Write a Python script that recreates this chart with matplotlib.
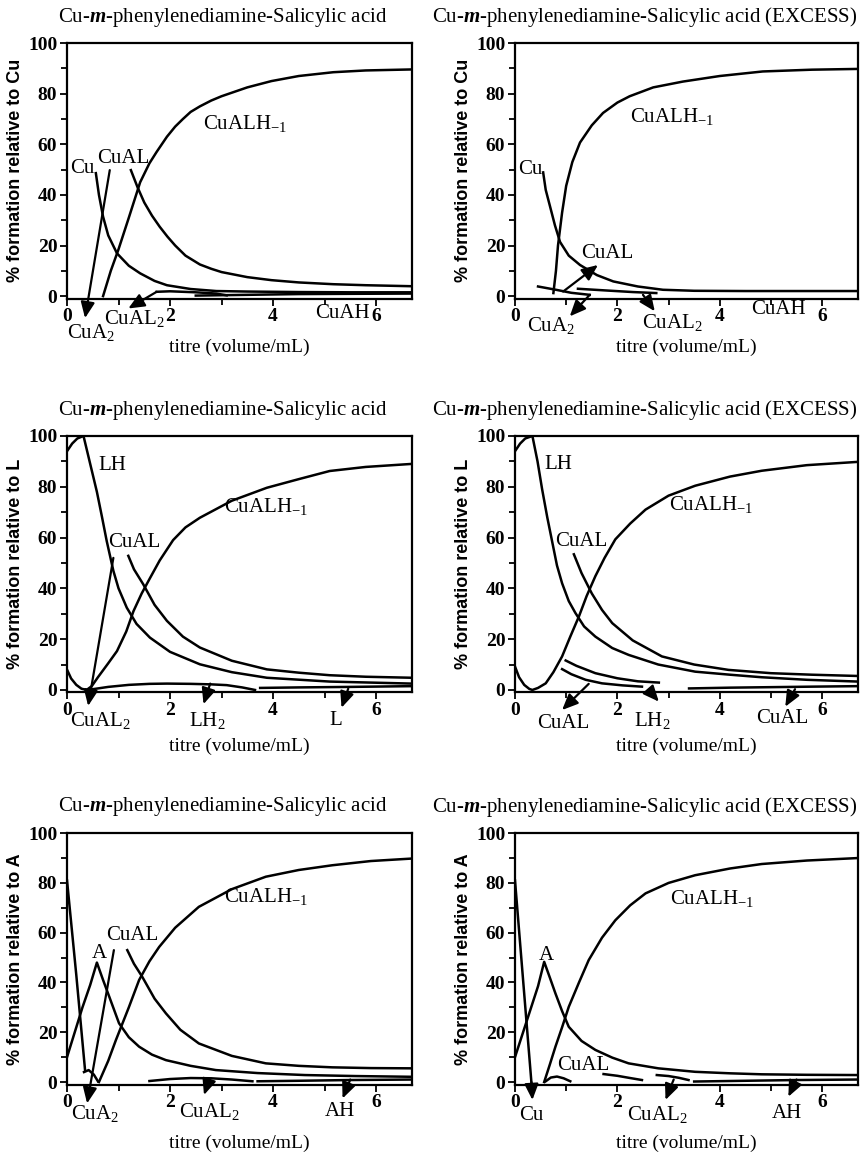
import matplotlib
matplotlib.use('Agg')
import matplotlib.pyplot as plt

plt.rcParams['font.family'] = 'Liberation Serif'
plt.rcParams['mathtext.fontset'] = 'custom'
plt.rcParams['mathtext.rm'] = 'Liberation Serif'
plt.rcParams['mathtext.it'] = 'Liberation Serif:italic'
plt.rcParams['mathtext.bf'] = 'Liberation Serif:bold'
plt.rcParams['mathtext.bfit'] = 'Liberation Serif:italic:bold'

X_TICKS = [0, 2, 4, 6]
X_MINOR = [1, 3, 5]
Y_TICKS = [0, 20, 40, 60, 80, 100]
Y_MINOR = [10, 30, 50, 70, 90]

TITLE = r'Cu-$\mathbfit{m}$-phenylenediamine-Salicylic acid'
TITLE_EXC = TITLE + ' (EXCESS)'
XLABEL = 'titre (volume/mL)'
YLABELS = ['% formation relative to Cu', '% formation relative to L',
           '% formation relative to A']

# ---- relative to Cu, normal ----
cu_norm_cualh_x = [0.70, 0.85, 1.0, 1.2, 1.42, 1.6, 1.74, 1.94, 2.1, 2.25, 2.4, 2.58, 2.8, 3.0, 3.5, 3.97, 4.5, 5.17, 5.8, 6.7]
cu_norm_cualh_y = [0, 10, 18.5, 31, 45, 52.5, 57, 63, 67, 70, 72.8, 75, 77.3, 79, 82.5, 85, 87, 88.5, 89.2, 89.6]
cu_norm_cual_x = [1.24, 1.37, 1.5, 1.65, 1.8, 1.95, 2.1, 2.3, 2.58, 2.8, 3.0, 3.5, 3.97, 4.5, 5.17, 5.8, 6.7]
cu_norm_cual_y = [49.8, 43, 37, 31.8, 27.4, 23.5, 20, 16, 12.5, 10.8, 9.5, 7.5, 6.3, 5.4, 4.7, 4.3, 3.9]
cu_norm_cu_x = [0.56, 0.62, 0.7, 0.8, 0.97, 1.2, 1.42, 1.7, 1.94, 2.4, 2.9, 3.5, 4.5, 5.5, 6.7]
cu_norm_cu_y = [48.6, 40, 31.4, 24, 16.9, 12, 9, 6, 4.3, 2.8, 2.0, 1.8, 1.6, 1.5, 1.5]
cu_norm_cual2_x = [1.74, 2.0, 2.5, 2.9, 3.1]
cu_norm_cual2_y = [1.7, 1.9, 1.5, 1.0, 0.3]
cu_norm_cuah_x = [2.5, 3.5, 4.5, 5.5, 6.7]
cu_norm_cuah_y = [0.2, 0.5, 0.8, 0.9, 1.0]

# ---- relative to Cu, excess ----
cu_exc_cualh_x = [0.75, 0.8, 0.84, 0.92, 1.0, 1.12, 1.27, 1.5, 1.72, 2.0, 2.24, 2.7, 3.28, 4.0, 4.84, 5.8, 6.7]
cu_exc_cualh_y = [1.2, 10, 20, 33, 43.6, 53, 60.7, 67.5, 72.4, 76.5, 79, 82.5, 84.8, 87, 88.8, 89.5, 89.8]
cu_exc_cu_x = [0.55, 0.6, 0.68, 0.78, 0.88, 1.05, 1.27, 1.6, 1.92, 2.4, 2.89, 3.5, 4.5, 5.5, 6.7]
cu_exc_cu_y = [48.9, 42, 35.8, 28, 21.4, 16, 12.3, 8.3, 5.8, 3.8, 2.5, 2.1, 2.0, 2.0, 2.0]
cu_exc_cua2_x = [0.45, 0.8, 1.1, 1.46]
cu_exc_cua2_y = [3.8, 2.5, 1.3, 0.5]
cu_exc_cual2_x = [1.23, 1.8, 2.3, 2.76]
cu_exc_cual2_y = [2.9, 2.2, 1.6, 1.2]

# ---- relative to L, normal ----
l_norm_lh_x = [0, 0.1, 0.2, 0.32, 0.45, 0.58, 0.68, 0.77, 0.9, 1.0, 1.16, 1.35, 1.61, 2.0, 2.58, 3.2, 3.88, 5.1, 6.7]
l_norm_lh_y = [94, 97, 99, 100, 89, 78, 68, 58.7, 46.9, 40, 32.4, 26, 20.6, 15, 10.1, 7, 4.8, 3.3, 2.5]
l_norm_cualh_x = [0, 0.08, 0.18, 0.28, 0.38, 0.48, 0.6, 0.8, 0.97, 1.15, 1.29, 1.45, 1.61, 1.8, 2.06, 2.3,
                  2.58, 3.2, 3.88, 4.5, 5.1, 5.8, 6.7]
l_norm_cualh_y = [8, 4.5, 2, 0.5, 0, 1.5, 5, 10.5, 15.3, 23, 31, 38, 44, 51, 59, 64,
                  67.8, 74.5, 79.6, 83, 86.2, 87.8, 89]
l_norm_cual_x = [1.19, 1.3, 1.48, 1.7, 1.94, 2.25, 2.58, 3.2, 3.88, 4.5, 5.1, 5.8, 6.7]
l_norm_cual_y = [52.8, 47.5, 41.6, 33.5, 27.2, 21, 16.7, 11.5, 8.1, 6.8, 5.8, 5.2, 4.8]
l_norm_lh2_x = [0.5, 0.8, 1.2, 1.6, 1.94, 2.4, 2.8, 3.1, 3.4, 3.65]
l_norm_lh2_y = [0.3, 1.2, 2.0, 2.4, 2.5, 2.4, 2.2, 1.9, 1.0, 0]
l_norm_l_x = [3.75, 4.5, 5.5, 6.7]
l_norm_l_y = [0.8, 1.0, 1.2, 1.5]

# ---- relative to L, excess ----
l_exc_lh_x = [0, 0.1, 0.2, 0.34, 0.44, 0.53, 0.63, 0.73, 0.82, 0.92, 1.05, 1.18, 1.35, 1.57, 1.9, 2.22,
              2.8, 3.52, 4.2, 4.82, 5.7, 6.7]
l_exc_lh_y = [94, 97, 99, 100, 90, 79, 68, 58, 49, 42, 35, 30.3, 25, 21, 16.5, 13.8,
              10, 7.2, 6, 5, 4, 3.3]
l_exc_cualh_x = [0, 0.08, 0.18, 0.28, 0.34, 0.45, 0.6, 0.75, 0.92, 1.08, 1.25, 1.4, 1.57, 1.75, 1.96,
                 2.25, 2.55, 3.0, 3.52, 4.2, 4.82, 5.7, 6.7]
l_exc_cualh_y = [9.2, 5, 2, 0.4, 0, 0.8, 2.6, 7, 13.2, 21, 29, 37, 44.8, 52, 59.3,
                 65.5, 71, 76.5, 80.4, 84, 86.3, 88.5, 89.8]
l_exc_cual_x = [1.15, 1.3, 1.5, 1.7, 1.9, 2.3, 2.87, 3.5, 4.17, 5.0, 5.8, 6.7]
l_exc_cual_y = [53.4, 46, 38, 31.5, 26.3, 19.5, 13.2, 10, 7.9, 6.6, 6, 5.5]
l_exc_upper_x = [0.99, 1.2, 1.57, 2.0, 2.4, 2.81]
l_exc_upper_y = [11.6, 9.5, 6.6, 4.6, 3.4, 2.9]
l_exc_lower_x = [0.92, 1.1, 1.38, 1.7, 2.1, 2.48]
l_exc_lower_y = [8.2, 6.2, 4.0, 2.6, 1.8, 1.3]
l_exc_low_x = [3.4, 4.2, 5.0, 5.8, 6.7]
l_exc_low_y = [0.6, 0.9, 1.1, 1.3, 1.5]

# ---- relative to A, normal ----
a_norm_cu_x = [0, 0.18, 0.35]
a_norm_cu_y = [81, 43, 4.8]
a_norm_cua2_x = [0.33, 0.42, 0.52, 0.6]
a_norm_cua2_y = [4.0, 4.8, 3, 0.3]
a_norm_a_x = [0, 0.15, 0.3, 0.45, 0.58, 0.7, 0.82, 1.01, 1.2, 1.4, 1.65, 1.92, 2.4, 2.89, 3.7, 4.62, 5.6, 6.7]
a_norm_a_y = [10, 20, 30, 39, 48, 41, 34.3, 23.6, 18, 14.2, 11, 8.8, 6.5, 4.8, 3.6, 2.8, 2.4, 2.1]
a_norm_cualh_x = [0.62, 0.8, 0.95, 1.2, 1.4, 1.6, 1.79, 2.1, 2.56, 3.2, 3.86, 4.5, 5.15, 5.9, 6.7]
a_norm_cualh_y = [0, 8.5, 16.9, 30, 41, 48.5, 54.3, 62, 70.4, 77.5, 82.5, 85.2, 87.1, 88.8, 89.8]
a_norm_cual_x = [1.17, 1.3, 1.46, 1.7, 1.92, 2.2, 2.56, 3.2, 3.86, 4.5, 5.15, 5.9, 6.7]
a_norm_cual_y = [53, 47.5, 42.3, 33.5, 27.6, 21, 15.5, 10.5, 7.5, 6.5, 5.9, 5.6, 5.5]
a_norm_cual2_x = [1.6, 2.0, 2.4, 2.8, 3.2, 3.6]
a_norm_cual2_y = [0.4, 1.2, 1.6, 1.5, 1.0, 0.3]
a_norm_ah_x = [3.7, 4.5, 5.5, 6.7]
a_norm_ah_y = [0.3, 0.5, 0.8, 1.0]

# ---- relative to A, excess ----
a_exc_cu_x = [0, 0.32]
a_exc_cu_y = [81, 0]
a_exc_a_x = [0, 0.15, 0.3, 0.45, 0.57, 0.68, 0.79, 0.92, 1.05, 1.3, 1.57, 1.9, 2.22, 2.8, 3.52, 4.2, 4.82, 5.7, 6.7]
a_exc_a_y = [10, 19.5, 29, 38.5, 48.3, 42, 35.6, 28.5, 22.2, 16.5, 12.9, 9.8, 7.5, 5.5, 4.1, 3.5, 3.1, 2.9, 2.8]
a_exc_cualh_x = [0.57, 0.68, 0.79, 0.92, 1.05, 1.25, 1.44, 1.7, 1.96, 2.25, 2.55, 3.0, 3.52, 4.2, 4.82, 5.7, 6.7]
a_exc_cualh_y = [0, 7, 14.2, 22, 30.2, 40, 49, 58, 65, 71, 75.8, 80, 83.1, 85.8, 87.6, 89, 90]
a_exc_cual_x = [0.6, 0.7, 0.82, 0.95, 1.08]
a_exc_cual_y = [0.3, 1.8, 2.2, 1.5, 0.3]
a_exc_s1_x = [1.73, 2.0, 2.25, 2.48]
a_exc_s1_y = [3.2, 2.5, 1.6, 0.8]
a_exc_s2_x = [2.77, 3.0, 3.2, 3.39]
a_exc_s2_y = [2.8, 2.4, 1.7, 0.8]
a_exc_ah_x = [3.5, 4.5, 5.5, 6.7]
a_exc_ah_y = [0.2, 0.5, 0.8, 1.0]

CUALH = r'CuALH$_{-1}$'
CUA2 = r'CuA$_2$'
CUAL2 = r'CuAL$_2$'
LH2 = r'LH$_2$'


def style_axes(ax, ylabel, xpad):
    ax.set_xlim(0, 6.7)
    ax.set_ylim(-1, 100)
    ax.set_xticks(X_TICKS)
    ax.set_xticklabels([str(t) for t in X_TICKS], fontweight='bold', fontsize=14)
    ax.set_xticks(X_MINOR, minor=True)
    ax.set_yticks(Y_TICKS)
    ax.set_yticklabels([str(t) for t in Y_TICKS], fontweight='bold', fontsize=14)
    ax.set_yticks(Y_MINOR, minor=True)
    ax.tick_params(which='both', direction='out', width=1.3, top=False, right=False)
    ax.tick_params(which='major', length=5, pad=2)
    ax.tick_params(which='minor', length=4)
    for sp in ax.spines.values():
        sp.set_linewidth(1.6)
    ax.set_ylabel(ylabel, family='Liberation Sans', fontweight='bold', fontsize=13, labelpad=3)
    ax.set_xlabel(XLABEL, fontsize=14, labelpad=xpad)


def draw(ax, curves, labels, arrows):
    for x, y in curves:
        ax.plot(x, y, color='black', lw=1.8, solid_joinstyle='round')
    for text, x, y in labels:
        ax.text(x, y, text, fontsize=15, ha='left', va='center', clip_on=False)
    for tail, head in arrows:
        ax.annotate('', xy=head, xytext=tail, annotation_clip=False,
                    arrowprops=dict(arrowstyle='-|>,head_length=0.8,head_width=0.35',
                                    mutation_scale=12, color='black', lw=1.6,
                                    shrinkA=0, shrinkB=0))


fig = plt.figure(figsize=(8.67, 11.53), dpi=100)

left_x, right_x = 0.0773, 0.594
width_l, width_r = 0.398, 0.3956
rows = [(0.741, 0.2216), (0.3994, 0.2225), (0.0594, 0.218)]
title_y = [0.985, 0.6444, 0.3001]
xlabel_pad = [9.5, 13, 17]

axes = []
for r, (b, h) in enumerate(rows):
    axl = fig.add_axes([left_x, b, width_l, h])
    axr = fig.add_axes([right_x, b, width_r, h])
    style_axes(axl, YLABELS[r], xlabel_pad[r])
    style_axes(axr, YLABELS[r], xlabel_pad[r])
    fig.text(0.257, title_y[r], TITLE, fontsize=15, ha='center', va='center')
    fig.text(0.744, title_y[r], TITLE_EXC, fontsize=15, ha='center', va='center')
    axes.append((axl, axr))

# Cu, normal
draw(axes[0][0],
     [(cu_norm_cualh_x, cu_norm_cualh_y), (cu_norm_cual_x, cu_norm_cual_y),
      (cu_norm_cu_x, cu_norm_cu_y), (cu_norm_cual2_x, cu_norm_cual2_y),
      (cu_norm_cuah_x, cu_norm_cuah_y)],
     [('Cu', 0.06, 50.6), ('CuAL', 0.58, 54.5), (CUALH, 2.64, 68.4),
      (CUA2, 0.0, -14.5), (CUAL2, 0.72, -8.7), ('CuAH', 4.82, -6.7)],
     [((0.83, 49.8), (0.35, -8.7)), ((1.74, 1.7), (1.19, -4.9))])

# Cu, excess
draw(axes[0][1],
     [(cu_exc_cualh_x, cu_exc_cualh_y), (cu_exc_cu_x, cu_exc_cu_y),
      (cu_exc_cua2_x, cu_exc_cua2_y), (cu_exc_cual2_x, cu_exc_cual2_y)],
     [('Cu', 0.06, 50.2), ('CuAL', 1.3, 16.9), (CUALH, 2.24, 71.1),
      (CUA2, 0.24, -11.8), (CUAL2, 2.48, -10.6), ('CuAH', 4.61, -5.4)],
     [((0.94, 1.8), (1.62, 12.3)), ((1.46, 0.5), (1.07, -8)), ((2.5, 0.5), (2.73, -6))])

# L, normal
draw(axes[1][0],
     [(l_norm_lh_x, l_norm_lh_y), (l_norm_cualh_x, l_norm_cualh_y),
      (l_norm_cual_x, l_norm_cual_y), (l_norm_lh2_x, l_norm_lh2_y),
      (l_norm_l_x, l_norm_l_y)],
     [('LH', 0.61, 88.2), ('CuAL', 0.8, 58), (CUALH, 3.04, 72.4),
      (CUAL2, 0.06, -12.2), (LH2, 2.36, -12), ('L', 5.1, -12)],
     [((0.9, 52), (0.41, -6.3)), ((2.78, 2.5), (2.65, -5.6)), ((5.46, 0.5), (5.33, -7))])

# L, excess
draw(axes[1][1],
     [(l_exc_lh_x, l_exc_lh_y), (l_exc_cualh_x, l_exc_cualh_y),
      (l_exc_cual_x, l_exc_cual_y), (l_exc_upper_x, l_exc_upper_y),
      (l_exc_lower_x, l_exc_lower_y), (l_exc_low_x, l_exc_low_y)],
     [('LH', 0.57, 88.9), ('CuAL', 0.79, 58.6), (CUALH, 3.0, 73),
      ('CuAL', 0.43, -13.2), (LH2, 2.32, -11.9), ('CuAL', 4.72, -11.2)],
     [((1.44, 2.4), (0.92, -7.9)), ((2.61, 0), (2.81, -4.6)), ((5.47, 0.3), (5.28, -6.6))])

# A, normal
draw(axes[2][0],
     [(a_norm_cu_x, a_norm_cu_y), (a_norm_cua2_x, a_norm_cua2_y),
      (a_norm_a_x, a_norm_a_y), (a_norm_cualh_x, a_norm_cualh_y),
      (a_norm_cual_x, a_norm_cual_y), (a_norm_cual2_x, a_norm_cual2_y),
      (a_norm_ah_x, a_norm_ah_y)],
     [('A', 0.49, 51.7), ('CuAL', 0.75, 59), (CUALH, 3.05, 74.4),
      (CUA2, 0.07, -12.5), (CUAL2, 2.17, -11.9), ('AH', 5.0, -11.9)],
     [((0.91, 53), (0.39, -8.6)), ((2.76, 1), (2.66, -5.2)), ((5.5, 1), (5.35, -6.6))])

# A, excess
draw(axes[2][1],
     [(a_exc_cu_x, a_exc_cu_y), (a_exc_a_x, a_exc_a_y), (a_exc_cualh_x, a_exc_cualh_y),
      (a_exc_cual_x, a_exc_cual_y), (a_exc_s1_x, a_exc_s1_y), (a_exc_s2_x, a_exc_s2_y),
      (a_exc_ah_x, a_exc_ah_y)],
     [('A', 0.47, 51), ('CuAL', 0.82, 6.8), (CUALH, 3.03, 73.8),
      ('Cu', 0.08, -13.3), (CUAL2, 2.19, -13), ('AH', 5.02, -12.6)],
     [((0.32, 0), (0.34, -7.2)), ((3.1, 1), (2.94, -7.2)), ((5.5, 1), (5.34, -5.9))])

fig.savefig('out.png', dpi=100)
